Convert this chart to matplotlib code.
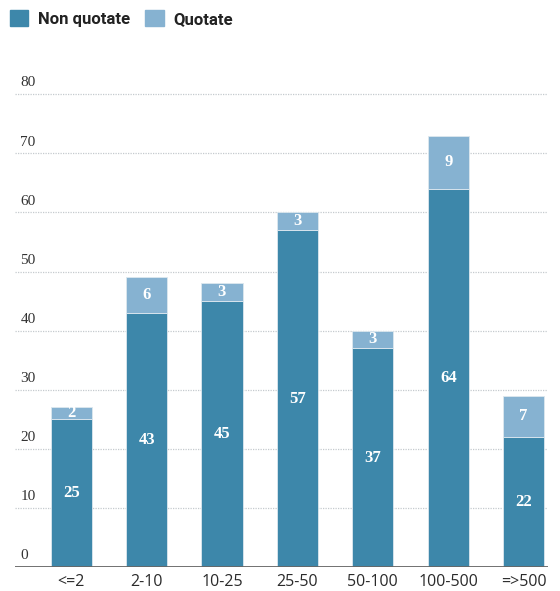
import matplotlib.pyplot as plt
import matplotlib.patches as mpatches
import numpy as np

categories = ['<=2', '2-10', '10-25', '25-50', '50-100', '100-500', '=>500']
non_quotate = [25, 43, 45, 57, 37, 64, 22]
quotate = [2, 6, 3, 3, 3, 9, 7]
yticks = [0, 10, 20, 30, 40, 50, 60, 70, 80]

dark = '#3d87aa'
light = '#86b2d1'

fig = plt.figure(figsize=(5.6, 5.91), dpi=100)
ax = fig.add_axes([0.027, 0.0406, 0.952, 0.820])

x = np.arange(len(categories))
w = 0.545
ax.bar(x, non_quotate, w, color=dark, edgecolor='#dde8ef', linewidth=0.6, zorder=2)
ax.bar(x, quotate, w, bottom=non_quotate, color=light, edgecolor='#dde8ef', linewidth=0.6, zorder=2)

for i in range(len(categories)):
    ax.text(x[i], non_quotate[i] / 2, str(non_quotate[i]), ha='center', va='center',
            color='white', fontsize=12, fontweight='bold', family='Liberation Serif', zorder=3)
    ax.text(x[i], non_quotate[i] + quotate[i] / 2, str(quotate[i]), ha='center', va='center',
            color='white', fontsize=12, fontweight='bold', family='Liberation Serif', zorder=3)

# dotted grid lines with labels sitting above them
for v in yticks:
    if v > 0:
        ax.axhline(v, color='#c5cace', lw=0.9, ls=(0, (1, 1)), zorder=1)
    ax.text(0.01, v + 0.8, str(v), transform=ax.get_yaxis_transform(), ha='left', va='bottom',
            fontsize=11, color='#333333', family='Liberation Serif')
ax.axhline(0, color='#666666', lw=1.3, zorder=4)

ax.set_xlim(-0.743, 6.326)
ax.set_ylim(0, 82)
ax.set_xticks(x)
ax.set_xticklabels(categories, fontsize=11.5, color='#2a2a2a', family='Open Sans')
ax.tick_params(axis='x', length=0, pad=5)
ax.set_yticks([])
for s in ax.spines.values():
    s.set_visible(False)

handles = [mpatches.Patch(color=dark, label='Non quotate'),
           mpatches.Patch(color=light, label='Quotate')]
fig.legend(handles=handles, loc='upper left', bbox_to_anchor=(0.0, 1.0), ncol=2, frameon=False,
           borderaxespad=0.2, handlelength=1.1, handleheight=1.1, handletextpad=0.6, columnspacing=0.9,
           prop={'family': 'Roboto', 'weight': 'bold', 'size': 12}, labelcolor='#222222')

fig.savefig('out.png', dpi=100)
